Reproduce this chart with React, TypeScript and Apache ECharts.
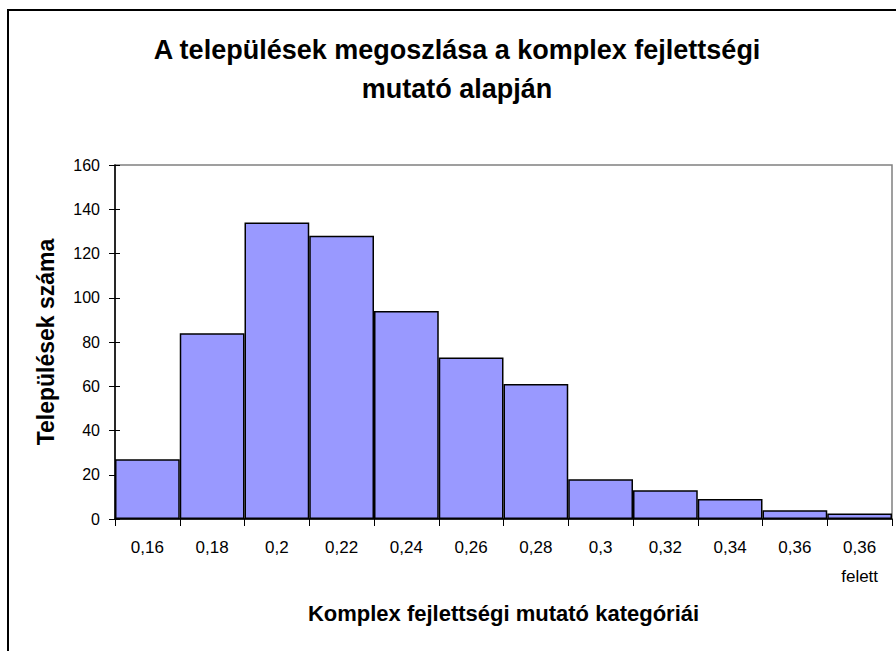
import React, { useEffect, useRef } from "react";
import * as echarts from "echarts";

const categories = ["0,16", "0,18", "0,2", "0,22", "0,24", "0,26", "0,28", "0,3", "0,32", "0,34", "0,36", "0,36\nfelett"];
const counts = [27, 84, 134, 128, 94, 73, 61, 18, 13, 9, 4, 2.5];
const titleText = "A települések megoszlása a komplex fejlettségi\nmutató alapján";
const xTitle = "Komplex fejlettségi mutató kategóriái";
const yTitle = "Települések száma";

const FONT = "'Liberation Sans', Arial, sans-serif";

export default function App() {
  const ref = useRef<HTMLDivElement>(null);
  useEffect(() => {
    document.body.style.margin = "0";
    if (!ref.current) return;
    const chart = echarts.init(ref.current, null, { renderer: "svg" });
    chart.setOption({
      animation: false,
      backgroundColor: "#ffffff",
      textStyle: { fontFamily: FONT },
      title: {
        text: titleText,
        left: 452,
        textAlign: "center",
        top: 25,
        textStyle: { fontFamily: FONT, fontSize: 27, fontWeight: "bold", color: "#000", lineHeight: 39 },
      },
      graphic: [
        {
          type: "rect",
          shape: { x: 8, y: 10, width: 900, height: 700 },
          style: { fill: "none", stroke: "#000", lineWidth: 2 },
          silent: true,
        },
      ],
      grid: {
        left: 115,
        right: 4,
        top: 165,
        bottom: 132,
        show: true,
        borderColor: "#808080",
        borderWidth: 1.5,
        backgroundColor: "transparent",
      },
      xAxis: {
        type: "category",
        data: categories,
        boundaryGap: true,
        name: xTitle,
        nameLocation: "middle",
        nameGap: 83,
        nameTextStyle: { fontFamily: FONT, fontSize: 22, fontWeight: "bold", color: "#000" },
        axisLine: { lineStyle: { color: "#000", width: 1.5 } },
        axisTick: { show: true, alignWithLabel: false, length: 7, lineStyle: { color: "#000", width: 1 } },
        axisLabel: { color: "#000", fontSize: 17, fontFamily: FONT, margin: 14, lineHeight: 29, verticalAlign: "top", interval: 0 },
        splitLine: { show: false },
      },
      yAxis: [
        {
          type: "value",
          min: 0,
          max: 160,
          interval: 20,
          name: yTitle,
          nameLocation: "middle",
          nameRotate: 90,
          nameGap: 69,
          nameTextStyle: { fontFamily: FONT, fontSize: 23, fontWeight: "bold", color: "#000", verticalAlign: "middle" },
          axisLine: { show: true, lineStyle: { color: "#000", width: 1.5 } },
          axisTick: { show: true, length: 6, lineStyle: { color: "#000", width: 1 } },
          axisLabel: { color: "#000", fontSize: 16, fontFamily: FONT, margin: 15 },
          splitLine: { show: false },
        },
        {
          type: "value",
          min: 0,
          max: 160,
          interval: 20,
          position: "left",
          axisLine: { show: false },
          axisTick: { show: true, inside: true, length: 5, lineStyle: { color: "#000", width: 1 } },
          axisLabel: { show: false },
          splitLine: { show: false },
        },
      ],
      series: [
        {
          type: "bar",
          data: counts,
          yAxisIndex: 0,
          barCategoryGap: "0%",
          itemStyle: { color: "#9999FF", borderColor: "#000", borderWidth: 1.5 },
        },
      ],
    });
    return () => chart.dispose();
  }, []);
  return <div ref={ref} style={{ width: 896, height: 651 }} />;
}
